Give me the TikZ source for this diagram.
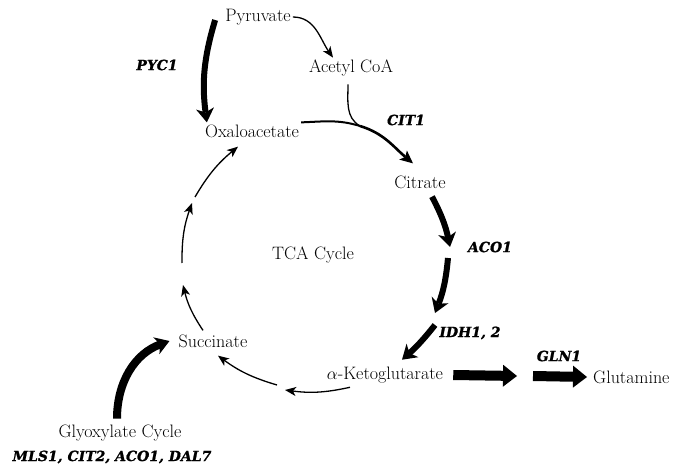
\documentclass[tikz,border=0pt]{standalone}
\usepackage{fontspec}
\usetikzlibrary{arrows.meta}
\newfontfamily\genefont[BoldItalicFeatures={FakeBold=1.2}]{DejaVu Serif}
\tikzstyle{metab}=[font=\fontsize{18}{20}\selectfont,inner sep=2pt]
\tikzstyle{gene}=[font=\genefont\fontsize{14}{16}\selectfont\bfseries\itshape,inner sep=1pt]
\tikzstyle{myarrow}=[line width=1.3pt,-{Stealth[length=11pt,width=9pt,inset=3pt]}]
\tikzstyle{mythick}=[line width=6pt,-{Stealth[length=14pt,width=18pt,inset=4pt,line width=0pt]}]
\tikzstyle{myblock}=[line width=10pt,-{Triangle[length=14pt,width=22pt,line width=0pt]}]
\begin{document}
\begin{tikzpicture}[x=1pt,y=-1pt]
	\useasboundingbox (0,0) rectangle (691,473);
	% metabolites
	\node[metab] (pyr) at (258,17) {Pyruvate};
	\node[metab] (acoa) at (351,68) {Acetyl CoA};
	\node[metab] (oaa) at (252,131) {Oxaloacetate};
	\node[metab] (cit) at (420,182) {Citrate};
	\node[metab] (tca) at (313,255) {TCA Cycle};
	\node[metab] (suc) at (213,341) {Succinate};
	\node[metab] (akg) at (385,375) {$\alpha$-Ketoglutarate};
	\node[metab,anchor=west] (gln) at (591,377) {Glutamine};
	\node[metab] (glx) at (120,433) {Glyoxylate Cycle};
	% enzymes
	\node[gene] (pyc) at (157,65) {PYC1};
	\node[gene] (cit1) at (406,120) {CIT1};
	\node[gene] (aco) at (490,247) {ACO1};
	\node[gene] (idh) at (470,333) {IDH1, 2};
	\node[gene] (gln1) at (559,356) {GLN1};
	\node[gene] (glxg) at (112,457) {MLS1, CIT2, ACO1, DAL7};

	% break points of the cycle
	\coordinate (m) at (360,126);
	\coordinate (k1) at (450,247);
	\coordinate (k2) at (448,258);
	\coordinate (k3) at (435,313);
	\coordinate (k4) at (435,325);
	\coordinate (b1) at (285,390);
	\coordinate (b2) at (277,385);
	\coordinate (l1) at (183,285);
	\coordinate (l2) at (182,263);
	\coordinate (l3) at (192,203);
	\coordinate (l4) at (195,197);
	\coordinate (g1) at (517,376);
	\coordinate (g2) at (533,376);

	\draw[myarrow] (pyr.east) to[out=0,in=125] ([xshift=-18pt]acoa.north);
	\draw[mythick] ([xshift=-8pt,yshift=-3pt]pyr.west) to[bend right=12] ([xshift=4pt]oaa.north west);

	\draw[line width=1.3pt] ([xshift=-3pt,yshift=-6pt]acoa.south) to[out=-90,in=150] (m);
	\draw[line width=2pt] (oaa.north east) to[out=2,in=163] (m);
	\draw[line width=2.6pt,-{Stealth[length=13pt,width=12pt,inset=3pt,line width=0pt]}] (m) to[out=-17,in=140] ([xshift=-7pt,yshift=10pt]cit.north);

	\draw[mythick] ([xshift=12pt,yshift=-6pt]cit.south) to[bend left=8] (k1);
	\draw[mythick] (k2) to[bend left=8] (k3);
	\draw[mythick] (k4) to[bend left=5] ([xshift=17pt,yshift=5pt]akg.north);

	\draw[myarrow] ([xshift=-35pt,yshift=-2pt]akg.south) to[bend left=10] (b1);
	\draw[myarrow] (b2) to[bend left=10] ([xshift=5pt,yshift=-6pt]suc.south);

	\draw[myarrow] ([xshift=-10pt,yshift=2pt]suc.north) to[bend left=10] (l1);
	\draw[myarrow] (l2) to[bend left=10] (l3);
	\draw[myarrow] (l4) to[bend left=10] ([xshift=-14pt,yshift=-7pt]oaa.south);

	\draw[mythick,line width=8pt] ([xshift=-3pt,yshift=4pt]glx.north) to[out=90,in=200] ([xshift=-7pt]suc.west);

	\draw[myblock] ([xshift=8pt]akg.east) -- (g1);
	\draw[myblock] (g2) -- ([xshift=-4pt]gln.west);
\end{tikzpicture}
\end{document}
